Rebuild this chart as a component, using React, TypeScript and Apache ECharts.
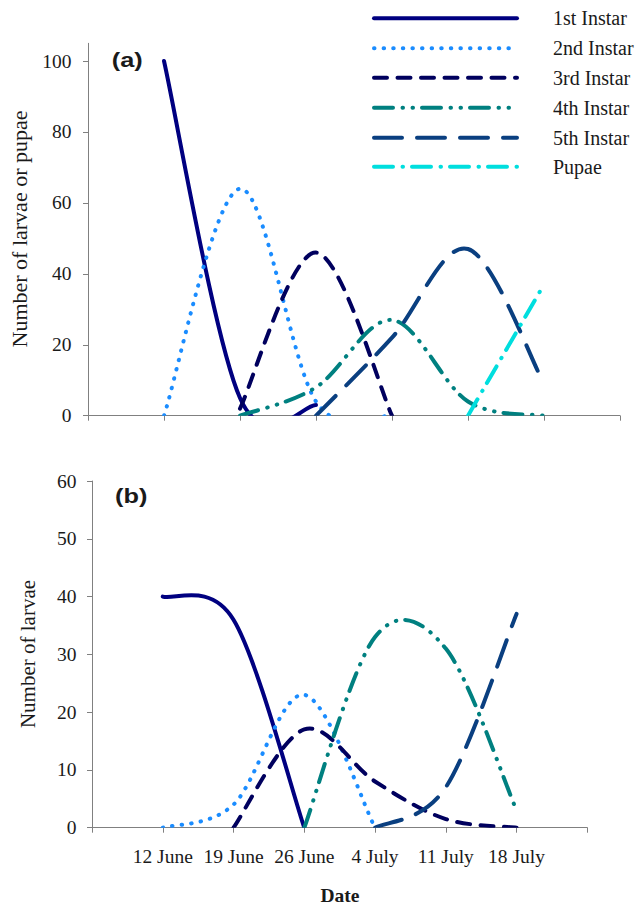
import React, { useEffect, useRef } from 'react';
import * as echarts from 'echarts';

// ---- data -------------------------------------------------------------
const dateLabels = ['12 June', '19 June', '26 June', '4 July', '11 July', '18 July'];
const seriesNames = ['1st Instar', '2nd Instar', '3rd Instar', '4th Instar', '5th Instar', 'Pupae'];

// panel (a): values at 12 June ... 18 July (null = no point)
const aFirst = [100, 5, 3, null, null, null];
const aSecond = [0, 64, 4, 0, null, null];
const aThird = [null, 2, 46, 0, null, null];
const aFourth = [null, 0, 8, 27, 4, 0];
const aFifth = [null, null, 0, 22, 47, 9];
const aPupae = [null, null, null, null, 0, 37];

// panel (b)
const bFirst = [40, 36, 0, null, null, null];
const bSecond = [0, 4, 23, 0, null, null];
const bThird = [null, 0, 17, 8, 1.5, 0];
const bFourth = [null, null, 0, 33, 31, 3];
const bFifth = [null, null, null, 0, 7, 37];

const yTicksA = [0, 20, 40, 60, 80, 100];
const yTicksB = [0, 10, 20, 30, 40, 50, 60];

// ---- styles -----------------------------------------------------------
const SERIF = "'Liberation Serif', 'Times New Roman', serif";
const SANS = "'Liberation Sans', Arial, sans-serif";
const AXIS = '#808080';
const TEXT = '#1a1a1a';
const LW = 4;

const lineStyles: { color: string; dash?: number[] }[] = [
  { color: '#000080' },
  { color: '#1a8cff', dash: [0.5, 9.1] },
  { color: '#00005e', dash: [13, 10.5] },
  { color: '#008080', dash: [19, 9.5, 0.5, 9.5, 0.5, 9] },
  { color: '#0a3f80', dash: [28, 15] },
  { color: '#00dede', dash: [19, 9.5, 0.5, 9] },
];

function smoothPath(pts: number[][]): string {
  let d = `M${pts[0][0]} ${pts[0][1]}`;
  for (let i = 0; i < pts.length - 1; i++) {
    const p0 = pts[i - 1] || pts[i];
    const p1 = pts[i];
    const p2 = pts[i + 1];
    const p3 = pts[i + 2] || pts[i + 1];
    const c1x = p1[0] + (p2[0] - p0[0]) / 6;
    const c1y = p1[1] + (p2[1] - p0[1]) / 6;
    const c2x = p2[0] - (p3[0] - p1[0]) / 6;
    const c2y = p2[1] - (p3[1] - p1[1]) / 6;
    d += ` C${c1x} ${c1y} ${c2x} ${c2y} ${p2[0]} ${p2[1]}`;
  }
  return d;
}

function curve(name: string, values: (number | null)[], styleIdx: number, axis: number) {
  const data = values
    .map((v, i) => (v == null ? null : [i + 1, v]))
    .filter((p) => p !== null) as number[][];
  const st = lineStyles[styleIdx];
  return {
    type: 'custom',
    name,
    xAxisIndex: axis,
    yAxisIndex: axis,
    data,
    silent: true,
    renderItem: (params: any, api: any) => {
      if (params.dataIndex !== 0) return { type: 'group', children: [] };
      const px = data.map((p) => api.coord(p));
      const cs = params.coordSys;
      return {
        type: 'path',
        shape: { pathData: smoothPath(px) },
        style: {
          fill: 'none',
          stroke: st.color,
          lineWidth: LW,
          lineDash: st.dash,
          lineCap: 'round',
          lineJoin: 'round',
        },
        clipPath: { type: 'rect', shape: { x: cs.x, y: cs.y, width: cs.width, height: cs.height } },
      };
    },
  };
}

function xAxisDef(grid: number, showLabels: boolean) {
  return {
    gridIndex: grid,
    type: 'value',
    min: 0,
    max: 7,
    interval: 1,
    axisLine: { show: true, onZero: false, lineStyle: { color: AXIS, width: 1 } },
    axisTick: { show: true, length: 5, lineStyle: { color: AXIS, width: 1 } },
    splitLine: { show: false },
    axisLabel: {
      show: showLabels,
      margin: 19,
      fontFamily: SERIF,
      fontSize: 19.5,
      color: TEXT,
      formatter: (v: number) => (v >= 1 && v <= dateLabels.length ? dateLabels[v - 1] : ''),
    },
  };
}

function yAxisDef(grid: number, max: number, ticks: number[], fontSize: number, margin: number) {
  return {
    gridIndex: grid,
    type: 'value',
    min: 0,
    max,
    axisLine: { show: true, lineStyle: { color: AXIS, width: 1 } },
    axisTick: { show: true, length: 5, lineStyle: { color: AXIS, width: 1 }, customValues: ticks },
    splitLine: { show: false },
    axisLabel: {
      customValues: ticks,
      margin,
      fontFamily: SERIF,
      fontSize,
      color: TEXT,
      formatter: (v: number) => (ticks.indexOf(v) >= 0 ? String(v) : ''),
    },
  };
}

export default function App() {
  const ref = useRef<HTMLDivElement>(null);

  useEffect(() => {
    if (!ref.current) return;
    const chart = echarts.init(ref.current, undefined, { renderer: 'svg' });

    const legendRows = [18.3, 48.3, 77.7, 107.7, 137.7, 166.7];
    const legendGraphics: any[] = [];
    seriesNames.forEach((name, i) => {
      const st = lineStyles[i];
      legendGraphics.push({
        type: 'line',
        shape: { x1: 374, y1: legendRows[i], x2: 517, y2: legendRows[i] },
        style: { stroke: st.color, lineWidth: 4, lineDash: st.dash, lineCap: 'round' },
        silent: true,
      });
      legendGraphics.push({
        type: 'text',
        x: 553,
        y: legendRows[i],
        style: {
          text: name,
          fontFamily: SERIF,
          fontSize: 20,
          fill: TEXT,
          textAlign: 'left',
          textVerticalAlign: 'middle',
          align: 'left',
          verticalAlign: 'middle',
        },
        silent: true,
      });
    });

    const textEl = (text: string, x: number, y: number, size: number, opts: any = {}) => ({
      type: 'text',
      x,
      y,
      rotation: opts.rotation || 0,
      scaleX: opts.scaleX || 1,
      silent: true,
      style: {
        text,
        fontFamily: opts.family || SERIF,
        fontSize: size,
        fontWeight: opts.weight || 'normal',
        fill: TEXT,
        textAlign: opts.align || 'center',
        textVerticalAlign: 'middle',
        align: opts.align || 'center',
        verticalAlign: 'middle',
      },
    });

    const option: any = {
      animation: false,
      backgroundColor: '#ffffff',
      grid: [
        { left: 88, top: 43.3, width: 532, height: 372.4, containLabel: false, outerBoundsMode: 'none' },
        { left: 92, top: 481, width: 495.3, height: 346.7, containLabel: false, outerBoundsMode: 'none' },
      ],
      xAxis: [xAxisDef(0, false), xAxisDef(1, true)],
      yAxis: [yAxisDef(0, 105, yTicksA, 19.5, 16.5), yAxisDef(1, 60, yTicksB, 19.5, 15.5)],
      graphic: [
        ...legendGraphics,
        textEl('(a)', 111.7, 60.5, 19.5, { family: SANS, weight: 'bold', align: 'left', scaleX: 1.3 }),
        textEl('(b)', 115, 497, 19.5, { family: SANS, weight: 'bold', align: 'left', scaleX: 1.3 }),
        textEl('Number of larvae or pupae', 19.5, 229, 22, { rotation: Math.PI / 2 }),
        textEl('Number of larvae', 27.5, 654, 21, { rotation: Math.PI / 2 }),
        textEl('Date', 340, 895, 19.5, { weight: 'bold' }),
      ],
      series: [
        curve(seriesNames[0], aFirst, 0, 0),
        curve(seriesNames[1], aSecond, 1, 0),
        curve(seriesNames[2], aThird, 2, 0),
        curve(seriesNames[3], aFourth, 3, 0),
        curve(seriesNames[4], aFifth, 4, 0),
        curve(seriesNames[5], aPupae, 5, 0),
        curve(seriesNames[0], bFirst, 0, 1),
        curve(seriesNames[1], bSecond, 1, 1),
        curve(seriesNames[2], bThird, 2, 1),
        curve(seriesNames[3], bFourth, 3, 1),
        curve(seriesNames[4], bFifth, 4, 1),
      ],
    };

    chart.setOption(option);
    return () => chart.dispose();
  }, []);

  return (
    <div
      ref={ref}
      style={{ position: 'absolute', left: 0, top: 0, width: 636, height: 907, background: '#fff' }}
    />
  );
}
